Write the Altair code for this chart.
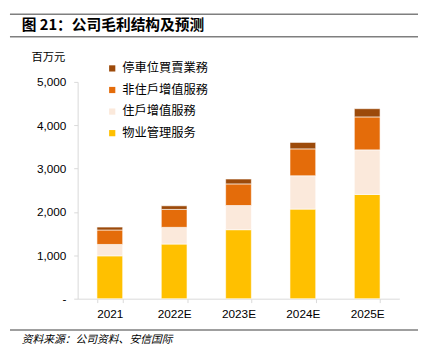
import altair as alt
import pandas as pd

years = ["2021", "2022E", "2023E", "2024E", "2025E"]
series = ["物业管理服务", "住戶增值服務", "非住戶增值服務", "停車位買賣業務"]
property_mgmt = [988, 1260, 1591, 2066, 2405]
resident_vas = [263, 385, 558, 769, 1027]
nonresident_vas = [333, 414, 498, 620, 760]
parking = [68, 83, 113, 149, 190]
colors = ["#FFC000", "#FBE9DB", "#E46C0A", "#9C4A0A"]
y_ticks = [0, 1000, 2000, 3000, 4000, 5000]

title_text = "图 21：公司毛利结构及预测"
unit_text = "百万元"
source_text = "资料来源：公司资料、安信国际"

rows = []
for s_idx, (name, vals) in enumerate(zip(series, [property_mgmt, resident_vas, nonresident_vas, parking])):
    for y, v in zip(years, vals):
        rows.append({"year": y, "series": name, "value": v, "order": s_idx})
df = pd.DataFrame(rows)

cjk = "Noto Sans CJK SC"

bars = alt.Chart(df).mark_bar(stroke="white", strokeWidth=0.6).encode(
    x=alt.X("year:N", sort=years,
            scale=alt.Scale(paddingInner=0.6, paddingOuter=0.3),
            axis=alt.Axis(title=None, labelAngle=0, tickBand="extent", tickSize=4,
                          labelPadding=6, domainColor="#d9d9d9", tickColor="#d9d9d9",
                          labelFont="Liberation Sans", labelFontSize=12, labelColor="#000")),
    y=alt.Y("value:Q", stack="zero",
            scale=alt.Scale(domain=[0, 5000], nice=False),
            axis=alt.Axis(title=None, values=y_ticks, grid=False, tickSize=4, labelPadding=8,
                          labelExpr="datum.value == 0 ? '-' : format(datum.value, ',')",
                          domainColor="#d9d9d9", tickColor="#d9d9d9",
                          labelFont="Liberation Sans", labelFontSize=12, labelColor="#000")),
    color=alt.Color("series:N",
                    scale=alt.Scale(domain=series[::-1], range=colors[::-1]),
                    legend=alt.Legend(title=None, orient="none", legendX=29, legendY=-20,
                                      symbolType="square", symbolSize=40, symbolStrokeWidth=0,
                                      labelFont=cjk, labelFontSize=12.5, labelColor="#000",
                                      rowPadding=9, labelOffset=4)),
    order=alt.Order("order:Q", sort="ascending"),
)

def text_layer(txt, x, y, size, weight="normal", style="normal"):
    return alt.Chart(pd.DataFrame({"t": [txt]})).mark_text(
        align="left", baseline="middle", font=cjk, fontSize=size,
        fontWeight=weight, fontStyle=style, color="#000"
    ).encode(x=alt.value(x), y=alt.value(y), text="t:N")

def hrule(y):
    return alt.Chart(pd.DataFrame({"d": [0]})).mark_rule(color="#7f7f7f", strokeWidth=1.6).encode(
        x=alt.value(-69), x2=alt.value(347), y=alt.value(y))

chart = alt.layer(
    bars,
    text_layer(title_text, -57, -58, 15, weight="bold"),
    text_layer(unit_text, -47, -24, 11.5),
    text_layer(source_text, -57, 263, 11, style="italic"),
    hrule(-69), hrule(-46), hrule(253),
).properties(
    width=328, height=221,
    autosize=alt.AutoSizeParams(type="none"),
    padding={"left": 71, "top": 72, "right": 19, "bottom": 50},
).configure_view(stroke=None)

chart.save("out.html", embed_options={"renderer": "svg", "actions": False})
